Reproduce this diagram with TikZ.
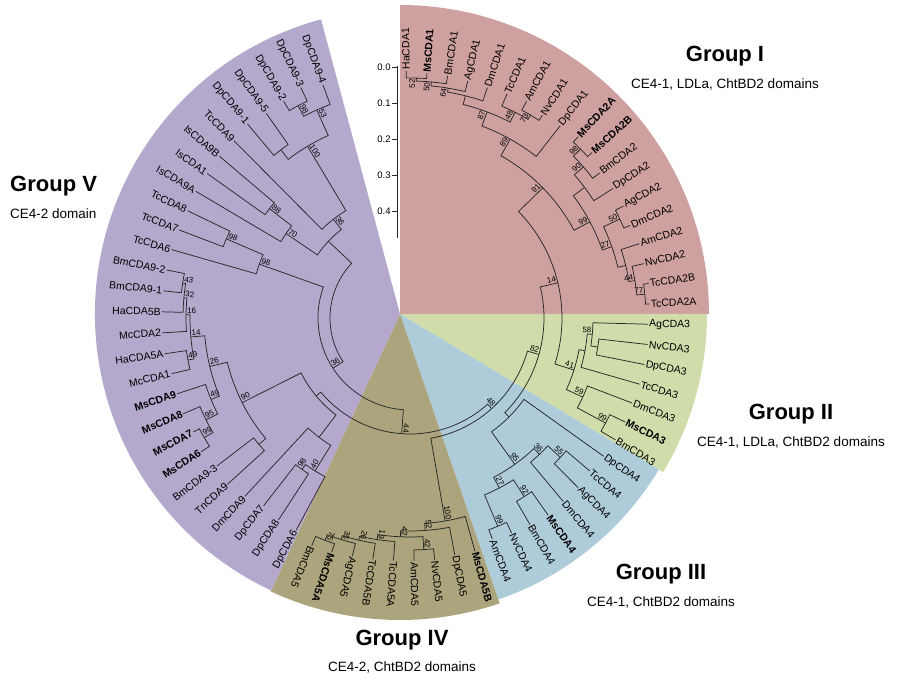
\documentclass[tikz,border=0pt]{standalone}
\usepackage{fontspec}
\setmainfont{Liberation Sans}
\usetikzlibrary{positioning}

% sector colours
\definecolor{grpIcol}{RGB}{206,161,160}
\definecolor{grpIIcol}{RGB}{208,220,170}
\definecolor{grpIIIcol}{RGB}{174,203,218}
\definecolor{grpIVcol}{RGB}{171,164,124}
\definecolor{grpVcol}{RGB}{180,169,205}
\definecolor{branchcol}{RGB}{40,40,40}

\tikzset{
  branch/.style={draw=branchcol, line width=0.75pt},
  leaflab/.style={font=\fontsize{10.5}{12}\selectfont, inner sep=1.2pt},
  bootlab/.style={font=\fontsize{8}{9}\selectfont, inner sep=1pt},
  grouptitle/.style={font=\fontsize{22}{26}\selectfont\bfseries, inner sep=0pt},
  groupsub/.style={font=\fontsize{13.5}{16}\selectfont, inner sep=0pt},
  scalelab/.style={font=\fontsize{9.5}{11}\selectfont, anchor=east, inner sep=1pt},
}

% angle and radius of every tip and clade, kept by name
\newcommand\keepnode[3]{%
  \expandafter\xdef\csname treeA#1\endcsname{#2}%
  \expandafter\xdef\csname treeR#1\endcsname{#3}}
\newcommand\angof[1]{\csname treeA#1\endcsname}
\newcommand\radof[1]{\csname treeR#1\endcsname}

% one clade: name, radius, first child, second child, support value
\newcommand\clade[5]{%
  \pgfmathsetmacro\clA{\angof{#3}}%
  \pgfmathsetmacro\clB{\angof{#4}}%
  \pgfmathsetmacro\clRa{\radof{#3}}%
  \pgfmathsetmacro\clRb{\radof{#4}}%
  \pgfmathsetmacro\clM{(\clA+\clB)/2}%
  \draw[branch] (\clA:\clRa) -- (\clA:#2)
    arc[start angle=\clA, end angle=\clB, radius=#2] -- (\clB:\clRb);
  \coordinate (#1) at (\clM:#2);
  \keepnode{#1}{\clM}{#2}%
  \if\relax\detokenize{#5}\relax\else
    \ifdim\clM pt<-115pt
      \node[bootlab, anchor=south west, rotate=\clM+180] (#1bs) at (#1) {#5};
    \else
      \node[bootlab, anchor=south east, rotate=\clM] (#1bs) at (#1) {#5};
    \fi
  \fi}

\begin{document}
\begin{tikzpicture}[x=1pt, y=1pt]
\useasboundingbox (0,0) rectangle (898,680);

% Draw the group sectors
\coordinate (apex) at (400,366);
\fill[grpIcol] (apex) -- ++(0:309) arc[start angle=0, end angle=90, radius=309] -- cycle;
\fill[grpIIcol] (apex) -- ++(-31:307) arc[start angle=-31, end angle=0, radius=307] -- cycle;
\fill[grpIIIcol] (apex) -- ++(-71:302) arc[start angle=-71, end angle=-31, radius=302] -- cycle;
\fill[grpIVcol] (apex) -- ++(-115:306) arc[start angle=-115, end angle=-71, radius=306] -- cycle;
\fill[grpVcol] (apex) -- ++(105:305) arc[start angle=105, end angle=245, radius=305] -- cycle;

% Draw the scale bar
\draw[branch] (397,614) -- (397,442);
\foreach \v [count=\k from 0] in {0.0,0.1,0.2,0.3,0.4}
  \draw[branch] (397,613-36*\k) -- (392,613-36*\k) node[scalelab] (tick\k) {\v};

\begin{scope}[shift={(410,362)}]
% tips, placed at even steps round the circle
\foreach \tip/\tipR/\bld [count=\i] in {
  HaCDA1/247/0, MsCDA1/245/1, BmCDA1/245/0, AgCDA1/244/0, DmCDA1/243/0,
  TcCDA1/244/0, AmCDA1/246/0, NvCDA1/242/0, DpCDA1/244/0, MsCDA2A/247/1,
  MsCDA2B/246/1, BmCDA2/239/0, DpCDA2/241/0, AgCDA2/241/0, DmCDA2/239/0,
  AmCDA2/241/0, NvCDA2/240/0, TcCDA2B/241/0, TcCDA2A/240/0,
  AgCDA3/238/0, NvCDA3/239/0, DpCDA3/239/0, TcCDA3/239/0, DmCDA3/238/0,
  MsCDA3/239/1, BmCDA3/239/0,
  DpCDA4/238/0, TcCDA4/236/0, AgCDA4/239/0, DmCDA4/239/0, MsCDA4/241/1,
  BmCDA4/239/0, NvCDA4/238/0, AmCDA4/236/0,
  MsCDA5B/242/1, DpCDA5/241/0, NvCDA5/243/0, AmCDA5/243/0, TcCDA5A/243/0,
  TcCDA5B/244/0, AgCDA5/245/0, MsCDA5A/247/1, BmCDA5/248/0,
  DpCDA6/241/0, DpCDA8/241/0, DpCDA7/238/0, DmCDA9/243/0, TnCDA9/247/0,
  BmCDA9-3/243/0, MsCDA6/248/1, MsCDA7/245/1, MsCDA8/246/1, MsCDA9/245/1,
  McCDA1/245/0, HaCDA5A/248/0, McCDA2/248/0, HaCDA5B/248/0, BmCDA9-1/248/0,
  BmCDA9-2/248/0, TcCDA6/248/0, TcCDA7/247/0, TcCDA8/247/0, IsCDA9A/249/0,
  IsCDA1/249/0, IsCDA9B/250/0, TcCDA9/250/0, DpCDA9-1/253/0, DpCDA9-5/250/0,
  DpCDA9-2/251/0, DpCDA9-3/255/0, DpCDA9-4/249/0}{
  \pgfmathsetmacro\tipA{90.9-4.863*(\i-1)}
  \keepnode{\tip}{\tipA}{\tipR}
  \ifdim\tipA pt<-115pt
    \node[leaflab, anchor=east, rotate=\tipA+180] (\tip) at (\tipA:\tipR)
      {\ifnum\bld=1 \textbf{\tip}\else\tip\fi};
  \else
    \node[leaflab, anchor=west, rotate=\tipA] (\tip) at (\tipA:\tipR)
      {\ifnum\bld=1 \textbf{\tip}\else\tip\fi};
  \fi
}

% Group I
\clade{Ia}{240}{HaCDA1}{MsCDA1}{52}
\clade{Ib}{237}{Ia}{BmCDA1}{50}
\clade{Ic}{233}{Ib}{AgCDA1}{64}
\clade{Id}{229}{Ic}{DmCDA1}{}
\clade{Ie}{236}{AmCDA1}{NvCDA1}{73}
\clade{If}{231}{TcCDA1}{Ie}{48}
\clade{Ig}{220}{Id}{If}{87}
\clade{Ih}{205}{Ig}{DpCDA1}{89}
\clade{Ii}{240}{MsCDA2A}{MsCDA2B}{98}
\clade{Ij}{230}{Ii}{BmCDA2}{90}
\clade{Ik}{218}{Ij}{DpCDA2}{}
\clade{Il}{232}{AgCDA2}{DmCDA2}{50}
\clade{Im}{236}{TcCDA2B}{TcCDA2A}{77}
\clade{In}{228}{NvCDA2}{Im}{44}
\clade{Io}{222}{AmCDA2}{In}{}
\clade{Ip}{214}{Il}{Io}{27}
\clade{Iq}{204}{Ik}{Ip}{99}
\clade{Iroot}{186}{Ih}{Iq}{91}

% Group II
\clade{IIa}{190}{NvCDA3}{DpCDA3}{}
\clade{IIb}{183}{AgCDA3}{IIa}{58}
\clade{IIc}{222}{MsCDA3}{BmCDA3}{99}
\clade{IId}{190}{DmCDA3}{IIc}{59}
\clade{IIe}{178}{IIb}{TcCDA3}{}
\clade{IIroot}{172}{IIe}{IId}{41}
\clade{IandII}{152}{Iroot}{IIroot}{14}

% Group III
\clade{IIIa}{205}{TcCDA4}{AgCDA4}{55}
\clade{IIIb}{188}{IIIa}{DmCDA4}{36}
\clade{IIIc}{212}{MsCDA4}{BmCDA4}{92}
\clade{IIId}{226}{NvCDA4}{AmCDA4}{99}
\clade{IIIe}{192}{IIIc}{IIId}{27}
\clade{IIIf}{180}{IIIb}{IIIe}{95}
\clade{IIIroot}{140}{DpCDA4}{IIIf}{}
\clade{IthruIII}{134}{IandII}{IIIroot}{82}

% Group IV
\clade{IVa}{238}{MsCDA5A}{BmCDA5}{75}
\clade{IVb}{232}{AgCDA5}{IVa}{35}
\clade{IVc}{228}{TcCDA5B}{IVb}{26}
\clade{IVd}{224}{TcCDA5A}{IVc}{19}
\clade{IVe}{232}{NvCDA5}{AmCDA5}{42}
\clade{IVf}{219}{IVe}{IVd}{42}
\clade{IVg}{213}{DpCDA5}{IVf}{52}
\clade{IVroot}{206}{MsCDA5B}{IVg}{100}
\clade{IthruIV}{122}{IVroot}{IthruIII}{48}

% Group V
\clade{Va}{240}{DpCDA9-2}{DpCDA9-3}{98}
\clade{Vb}{228}{Va}{DpCDA9-4}{53}
\clade{Vc}{212}{DpCDA9-1}{DpCDA9-5}{}
\clade{Vd}{200}{Vc}{Vb}{100}
\clade{Ve}{125}{TcCDA9}{Vd}{36}
\clade{Vf}{178}{IsCDA1}{IsCDA9B}{88}
\clade{Vg}{150}{IsCDA9A}{Vf}{70}
\clade{Vh}{112}{Ve}{Vg}{}
\clade{Vi}{200}{TcCDA7}{TcCDA8}{98}
\clade{Vj}{160}{TcCDA6}{Vi}{98}
\clade{Vk}{230}{BmCDA9-2}{BmCDA9-1}{43}
\clade{Vl}{227}{Vk}{HaCDA5B}{32}
\clade{Vm}{224}{Vl}{McCDA2}{16}
\clade{Vn}{226}{HaCDA5A}{McCDA1}{49}
\clade{Vo}{220}{Vm}{Vn}{14}
\clade{Vp}{238}{MsCDA7}{MsCDA6}{99}
\clade{Vq}{228}{MsCDA8}{Vp}{95}
\clade{Vr}{215}{MsCDA9}{Vq}{49}
\clade{Vs}{206}{Vo}{Vr}{26}
\clade{Vt}{197}{BmCDA9-3}{TnCDA9}{}
\clade{Vu}{188}{Vs}{Vt}{90}
\clade{Vv}{186}{DpCDA7}{DpCDA8}{98}
\clade{Vw}{180}{Vv}{DpCDA6}{40}
\clade{Vx}{150}{DmCDA9}{Vw}{}
\clade{Vy}{122}{Vu}{Vx}{}

% deep nodes near the centre
\clade{deepK}{116}{Vy}{IthruIV}{44}
\clade{deepY}{92}{Vj}{deepK}{36}
\clade{root}{80}{Vh}{deepY}{}
\end{scope}

% Label the groups
\node[grouptitle, anchor=base] (gI) at (725,618) {Group I};
\node[groupsub, anchor=base] (gIsub) at ([yshift=-27pt]gI.base) {CE4-1, LDLa, ChtBD2 domains};
\node[grouptitle, anchor=base] (gII) at (791,260) {Group II};
\node[groupsub, anchor=base] (gIIsub) at ([yshift=-27pt]gII.base) {CE4-1, LDLa, ChtBD2 domains};
\node[grouptitle, anchor=base] (gIII) at (661,100) {Group III};
\node[groupsub, anchor=base] (gIIIsub) at ([yshift=-27pt]gIII.base) {CE4-1, ChtBD2 domains};
\node[grouptitle, anchor=base] (gIV) at (402,34) {Group IV};
\node[groupsub, anchor=base] (gIVsub) at ([yshift=-26pt]gIV.base) {CE4-2, ChtBD2 domains};
\node[grouptitle, anchor=base west] (gV) at (10,488) {Group V};
\node[groupsub, anchor=base west] (gVsub) at ([yshift=-27pt]gV.base west) {CE4-2 domain};
\end{tikzpicture}
\end{document}
